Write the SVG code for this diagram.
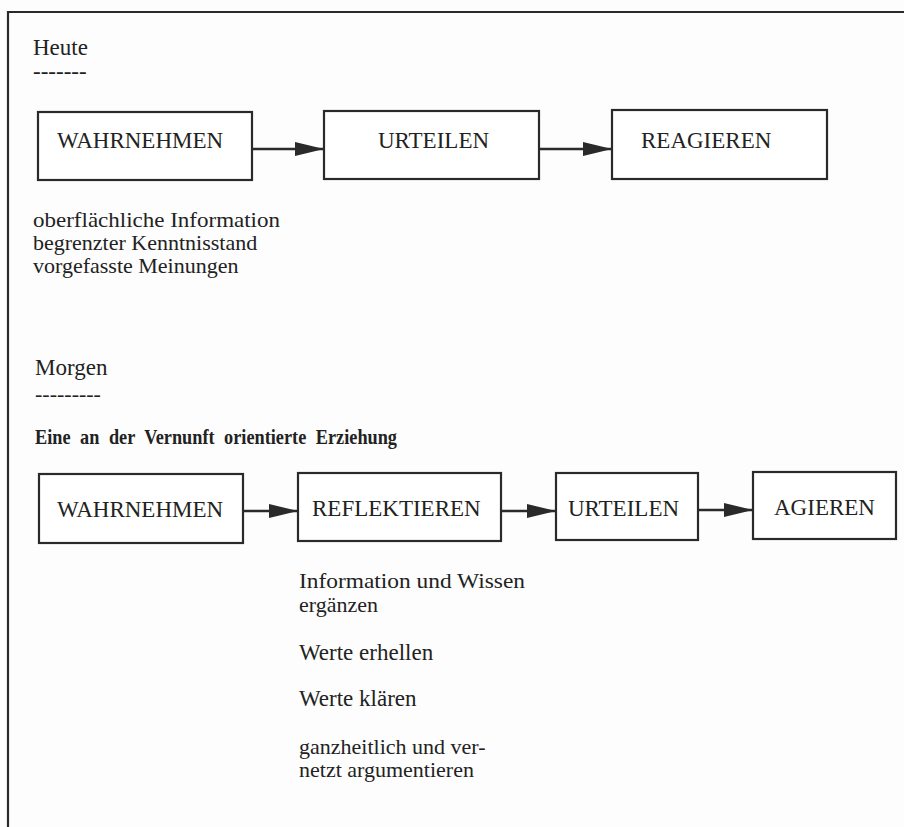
<svg xmlns="http://www.w3.org/2000/svg" width="904" height="827" viewBox="0 0 904 827">
<defs>
<style>
text{font-family:"Liberation Serif","Times New Roman","DejaVu Serif",serif;font-size:23px;fill:#222}
.m{font-size:22px}
.b{font-weight:bold;font-size:22px}
.box{fill:#fff;stroke:#2a2a2a;stroke-width:2.2}
.con{stroke:#2a2a2a;stroke-width:2.5;fill:none;marker-end:url(#ah)}
</style>
<marker id="ah" markerUnits="userSpaceOnUse" markerWidth="29" markerHeight="15" refX="29" refY="7.5" orient="auto">
<path d="M0,0.5 L29,7.5 L0,14.5 Z" fill="#2a2a2a"/>
</marker>
</defs>
<rect width="904" height="827" fill="#fdfdfd"/>
<path d="M904,12 H8 V827" fill="none" stroke="#2a2a2a" stroke-width="2.2"/>

<text x="33" y="55">Heute</text>
<text x="33" y="79">-------</text>

<g id="heute-wahrnehmen"><rect class="box" x="38" y="112" width="214" height="68"/><text x="57" y="148">WAHRNEHMEN</text></g>
<g id="heute-urteilen"><rect class="box" x="324" y="111" width="215" height="68"/><text x="378" y="148">URTEILEN</text></g>
<g id="heute-reagieren"><rect class="box" x="612" y="110" width="215" height="69"/><text x="641" y="148">REAGIEREN</text></g>

<text class="m" x="33" y="227" textLength="247" lengthAdjust="spacingAndGlyphs">oberflächliche Information</text>
<text class="m" x="33" y="250">begrenzter Kenntnisstand</text>
<text class="m" x="33" y="273">vorgefasste Meinungen</text>

<text x="35" y="375">Morgen</text>
<text class="m" x="35" y="401">---------</text>

<text class="b" x="35" y="444" textLength="362" lengthAdjust="spacingAndGlyphs" word-spacing="6">Eine an der Vernunft orientierte Erziehung</text>

<g id="morgen-wahrnehmen"><rect class="box" x="39" y="474" width="204" height="69"/><text x="57" y="517">WAHRNEHMEN</text></g>
<g id="morgen-reflektieren"><rect class="box" x="298" y="473" width="203" height="68"/><text x="312" y="516">REFLEKTIEREN</text></g>
<g id="morgen-urteilen"><rect class="box" x="556" y="473" width="142" height="67"/><text x="568" y="516">URTEILEN</text></g>
<g id="morgen-agieren"><rect class="box" x="753" y="472" width="143" height="67"/><text x="774" y="515">AGIEREN</text></g>

<g id="connectors">
<line class="con" x1="252" y1="149" x2="324" y2="149"/>
<line class="con" x1="539" y1="149" x2="612" y2="149"/>
<line class="con" x1="243" y1="511" x2="298" y2="511"/>
<line class="con" x1="501" y1="511" x2="556" y2="511"/>
<line class="con" x1="698" y1="510" x2="753" y2="510"/>
</g>

<text class="m" x="299" y="588" textLength="226" lengthAdjust="spacingAndGlyphs">Information und Wissen</text>
<text class="m" x="299" y="612">ergänzen</text>
<text x="299" y="660">Werte erhellen</text>
<text x="299" y="706">Werte klären</text>
<text class="m" x="299" y="754">ganzheitlich und ver-</text>
<text class="m" x="299" y="777">netzt argumentieren</text>
</svg>
